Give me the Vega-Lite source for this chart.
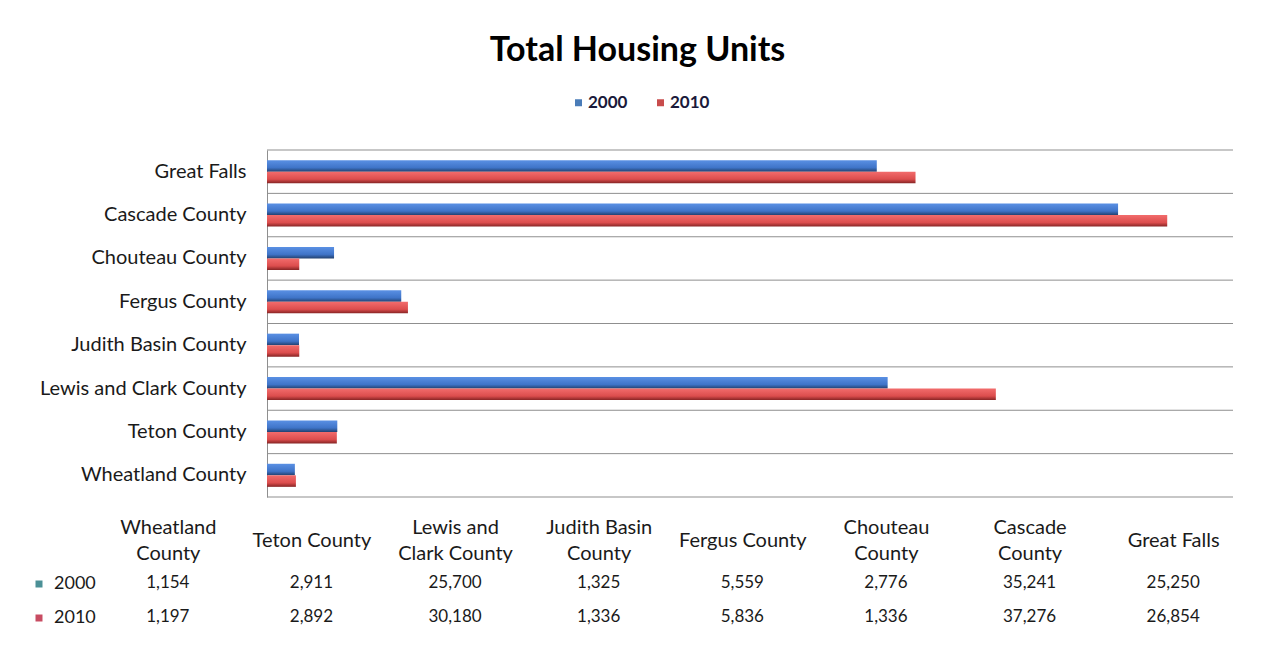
{
  "$schema": "https://vega.github.io/schema/vega-lite/v6.json",
  "background": "white",
  "padding": {"left": 30, "top": 34, "right": 5, "bottom": 5},
  "config": {"view": {"stroke": null}, "font": "Lato"},
  "title": {"text": "Total Housing Units", "fontSize": 34, "font": "Lato", "fontWeight": "bold", "anchor": "middle", "color": "#000000", "offset": 26},
  "data": {"values": [
    {"county": "Great Falls", "year": "2000", "value": 25250},
    {"county": "Great Falls", "year": "2010", "value": 26854},
    {"county": "Cascade County", "year": "2000", "value": 35241},
    {"county": "Cascade County", "year": "2010", "value": 37276},
    {"county": "Chouteau County", "year": "2000", "value": 2776},
    {"county": "Chouteau County", "year": "2010", "value": 1336},
    {"county": "Fergus County", "year": "2000", "value": 5559},
    {"county": "Fergus County", "year": "2010", "value": 5836},
    {"county": "Judith Basin County", "year": "2000", "value": 1325},
    {"county": "Judith Basin County", "year": "2010", "value": 1336},
    {"county": "Lewis and Clark County", "year": "2000", "value": 25700},
    {"county": "Lewis and Clark County", "year": "2010", "value": 30180},
    {"county": "Teton County", "year": "2000", "value": 2911},
    {"county": "Teton County", "year": "2010", "value": 2892},
    {"county": "Wheatland County", "year": "2000", "value": 1154},
    {"county": "Wheatland County", "year": "2010", "value": 1197}
  ]},
  "spacing": 19,
  "resolve": {"scale": {"color": "independent"}, "legend": {"color": "independent"}},
  "vconcat": [
    {
      "width": 1137,
      "height": 347,
      "encoding": {
        "y": {
          "field": "county", "type": "nominal",
          "sort": ["Great Falls", "Cascade County", "Chouteau County", "Fergus County", "Judith Basin County", "Lewis and Clark County", "Teton County", "Wheatland County"],
          "scale": {"paddingInner": 0, "paddingOuter": 0},
          "axis": {"title": null, "ticks": false, "grid": false, "offset": -171, "domainColor": "#8f8f8f", "labelFontSize": 20, "labelColor": "#1a1a1a", "labelPadding": 21, "labelLimit": 0}
        }
      },
      "layer": [
        {
          "transform": [{"filter": "datum.year == '2000'"}],
          "mark": {"type": "rule", "color": "#8f8f8f", "strokeWidth": 1},
          "encoding": {
            "y": {"field": "county", "type": "nominal", "bandPosition": 0, "sort": ["Great Falls", "Cascade County", "Chouteau County", "Fergus County", "Judith Basin County", "Lewis and Clark County", "Teton County", "Wheatland County"]},
            "x": {"datum": 0, "type": "quantitative", "scale": {"domain": [0, 40000], "range": [171, 1137]}, "axis": null},
            "x2": {"datum": 40000}
          }
        },
        {
          "transform": [{"filter": "datum.year == '2000' && datum.county == 'Wheatland County'"}],
          "mark": {"type": "rule", "color": "#8f8f8f", "strokeWidth": 1},
          "encoding": {
            "y": {"field": "county", "type": "nominal", "bandPosition": 1, "sort": ["Great Falls", "Cascade County", "Chouteau County", "Fergus County", "Judith Basin County", "Lewis and Clark County", "Teton County", "Wheatland County"]},
            "x": {"datum": 0, "type": "quantitative"},
            "x2": {"datum": 40000}
          }
        },
        {
          "transform": [{"filter": "datum.year == '2000'"}],
          "mark": {"type": "bar", "color": {"gradient": "linear", "x1": 0, "y1": 0, "x2": 0, "y2": 1, "stops": [{"offset": 0, "color": "#5a90e4"}, {"offset": 0.65, "color": "#3f74c8"}, {"offset": 1, "color": "#22416f"}]}},
          "encoding": {
            "x": {"field": "value", "type": "quantitative"},
            "yOffset": {"field": "year", "type": "nominal", "scale": {"domain": ["2000", "2010"], "paddingInner": 0, "paddingOuter": 0.88}}
          }
        },
        {
          "transform": [{"filter": "datum.year == '2010'"}],
          "mark": {"type": "bar", "color": {"gradient": "linear", "x1": 0, "y1": 0, "x2": 0, "y2": 1, "stops": [{"offset": 0, "color": "#f26c6c"}, {"offset": 0.65, "color": "#dc4d4d"}, {"offset": 1, "color": "#862424"}]}},
          "encoding": {
            "x": {"field": "value", "type": "quantitative"},
            "yOffset": {"field": "year", "type": "nominal"}
          }
        },
        {
          "transform": [{"filter": "false"}],
          "mark": {"type": "square", "opacity": 1},
          "encoding": {
            "color": {
              "field": "year", "type": "nominal",
              "scale": {"domain": ["2000", "2010"], "range": ["#4a7cb8", "#c84c4c"]},
              "legend": {"title": null, "orient": "none", "direction": "horizontal", "legendX": 474, "legendY": -56, "symbolType": "square", "symbolSize": 49, "symbolStrokeWidth": 0, "symbolOpacity": 1, "labelFontSize": 17, "labelFontWeight": "bold", "labelColor": "#1a1a3a", "columnPadding": 24, "labelOffset": 1}
            }
          }
        }
      ]
    },
    {
      "width": 1149,
      "height": 68,
      "encoding": {
        "x": {
          "field": "county", "type": "nominal",
          "sort": ["Wheatland County", "Teton County", "Lewis and Clark County", "Judith Basin County", "Fergus County", "Chouteau County", "Cascade County", "Great Falls"],
          "scale": {"paddingInner": 0, "paddingOuter": 0},
          "axis": {"orient": "top", "title": null, "ticks": false, "domain": false, "labelAngle": 0, "labelBaseline": "middle", "labelFontSize": 20, "labelColor": "#1a1a1a", "labelLineHeight": 26, "labelLimit": 0,
            "labelPadding": {"condition": {"test": "indexof(['Teton County', 'Fergus County', 'Great Falls'], datum.value) >= 0", "value": 26}, "value": 39},
            "labelExpr": "datum.value == 'Lewis and Clark County' ? ['Lewis and', 'Clark County'] : indexof(['Teton County', 'Fergus County', 'Great Falls'], datum.value) >= 0 ? datum.value : [replace(datum.value, ' County', ''), 'County']"}
        },
        "y": {"field": "year", "type": "nominal", "axis": null, "scale": {"paddingInner": 0, "paddingOuter": 0}}
      },
      "layer": [
        {
          "mark": {"type": "text", "fontSize": 17, "color": "#1a1a1a"},
          "encoding": {"text": {"field": "value", "type": "quantitative", "format": ","}}
        },
        {
          "transform": [{"filter": "false"}],
          "mark": {"type": "square", "opacity": 1},
          "encoding": {
            "color": {
              "field": "year", "type": "nominal",
              "scale": {"domain": ["2000", "2010"], "range": ["#4b9096", "#c84c62"]},
              "legend": {"title": " ", "titleFontSize": 6, "titlePadding": 3, "orient": "left", "offset": 0, "symbolType": "square", "symbolSize": 49, "symbolStrokeWidth": 0, "symbolOpacity": 1, "labelFontSize": 18, "labelColor": "#1a1a1a", "rowPadding": 16, "labelOffset": 6, "padding": 0}
            }
          }
        }
      ]
    }
  ]
}
